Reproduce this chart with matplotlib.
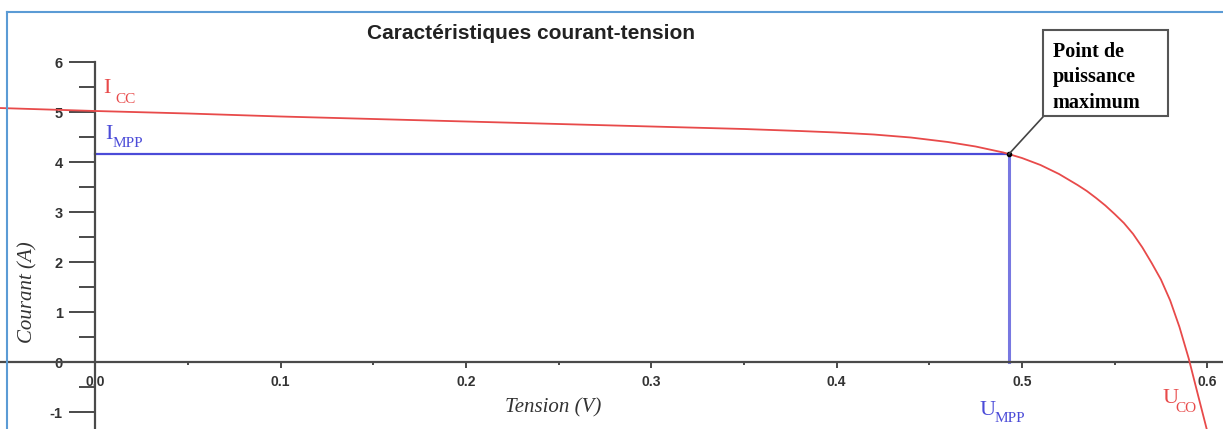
import matplotlib
matplotlib.use("Agg")
import matplotlib.pyplot as plt
from matplotlib.lines import Line2D
from matplotlib.patches import Rectangle
from matplotlib.ticker import FixedLocator

plt.rcParams['font.family'] = ['Liberation Sans', 'DejaVu Sans']
plt.rcParams['axes.unicode_minus'] = False

# --- data ---
tension = [-0.052, 0.0, 0.05, 0.1, 0.15, 0.2, 0.25, 0.3, 0.35, 0.38, 0.40, 0.42,
           0.44, 0.46, 0.475, 0.49, 0.50, 0.51, 0.52, 0.53, 0.535, 0.54, 0.545,
           0.55, 0.555, 0.56, 0.565, 0.57, 0.575, 0.58, 0.585, 0.59, 0.595, 0.5997]
courant = [5.08, 5.02, 4.97, 4.91, 4.86, 4.81, 4.76, 4.71, 4.66, 4.62, 4.59, 4.55,
           4.49, 4.40, 4.31, 4.19, 4.08, 3.94, 3.76, 3.54, 3.42, 3.28, 3.13,
           2.96, 2.78, 2.56, 2.29, 1.98, 1.65, 1.23, 0.70, 0.07, -0.66, -1.34]
u_mpp = 0.493
i_mpp = 4.16
x_ticks = [0.0, 0.1, 0.2, 0.3, 0.4, 0.5, 0.6]
x_minor = [0.05, 0.15, 0.25, 0.35, 0.45, 0.55]
y_ticks = [-1, 0, 1, 2, 3, 4, 5, 6]
y_minor = [-0.5, 0.5, 1.5, 2.5, 3.5, 4.5, 5.5]

red = '#e84a4a'
blue = '#4b4bd8'
axis_col = '#4a4a4a'
serif = 'Liberation Serif'

fig = plt.figure(figsize=(12.23, 4.29), dpi=100)
ax = fig.add_axes([0, 0, 1, 1])
ax.set_xlim(-0.0515, 0.6085)
ax.set_ylim(-1.34, 7.24)

# curve + MPP construction
ax.plot(tension, courant, color=red, lw=1.3, zorder=3)
ax.plot([0, u_mpp], [i_mpp, i_mpp], color=blue, lw=1.6, zorder=2)
ax.plot([u_mpp, u_mpp], [i_mpp, 0], color=blue, lw=2.2, alpha=0.75, zorder=2)
ax.plot([u_mpp], [i_mpp], 'o', color='black', ms=3, zorder=4)

# axes through the origin
for s in ['top', 'right']:
    ax.spines[s].set_visible(False)
ax.spines['left'].set_position(('data', 0))
ax.spines['bottom'].set_position(('data', 0))
ax.spines['left'].set_bounds(-1.34, 6)
for s in ['left', 'bottom']:
    ax.spines[s].set_color(axis_col)
    ax.spines[s].set_linewidth(1.6)

ax.set_xticks(x_ticks)
ax.set_xticklabels([f'{v:.1f}' for v in x_ticks])
ax.xaxis.set_minor_locator(FixedLocator(x_minor))
ax.set_yticks(y_ticks)
ax.yaxis.set_minor_locator(FixedLocator(y_minor))
ax.tick_params(axis='x', which='major', direction='out', length=4.5, width=1.4,
               color=axis_col, labelsize=10, labelcolor='#333333', pad=5)
ax.tick_params(axis='x', which='minor', direction='out', length=2.5, width=1.4, color=axis_col)
ax.tick_params(axis='y', which='major', direction='out', length=18.5, width=1.4,
               color=axis_col, labelsize=10.5, labelcolor='#333333', pad=5)
ax.tick_params(axis='y', which='minor', direction='out', length=11.5, width=1.4, color=axis_col)
for lab in ax.get_xticklabels() + ax.get_yticklabels():
    lab.set_fontweight('bold')

# titles and axis names
fig.text(0.434, 0.923, 'Caractéristiques courant-tension', ha='center', va='center',
         fontsize=15, fontweight='bold', color='#222222')
fig.text(0.452, 0.05, 'Tension (V)', ha='center', va='center', fontsize=15,
         style='italic', family=serif, color='#333333')
fig.text(0.023, 0.32, 'Courant (A)', ha='center', va='center', fontsize=15, rotation=90,
         style='italic', family=serif, color='#333333')

# point labels: main letter + lowered subscript
labels = [
    ('I', 'CC', red, 0.004, 5.38, 0.0105, 5.18),
    ('I', 'MPP', blue, 0.0055, 4.46, 0.0094, 4.30),
    ('U', 'MPP', blue, 0.4773, -1.06, 0.4854, -1.20),
    ('U', 'CO', red, 0.5756, -0.82, 0.5826, -1.00),
]
for main, sub, col, x0, y0, x1, y1 in labels:
    ax.text(x0, y0, main, color=col, fontsize=16, family=serif, va='baseline')
    ax.text(x1, y1, sub, color=col, fontsize=11, family=serif, va='baseline')

# callout box
ax.add_patch(Rectangle((0.5113, 4.92), 0.5788 - 0.5113, 6.64 - 4.92, fc='white',
                       ec='#555555', lw=1.5, zorder=5))
ax.text(0.5167, 6.40, 'Point de\npuissance\nmaximum', fontsize=14.5, fontweight='bold',
        family=serif, linespacing=1.35, ha='left', va='top', color='black', zorder=6)
ax.plot([u_mpp, 0.5118], [i_mpp, 4.92], color='#444444', lw=1.2, zorder=4)

# light blue frame of the screenshot
fig.add_artist(Line2D([0.0057, 1.0], [0.971, 0.971], color='#5b9bd5', lw=1.5))
fig.add_artist(Line2D([0.0057, 0.0057], [0.0, 0.971], color='#5b9bd5', lw=1.5))

fig.savefig('out.png', dpi=100)
